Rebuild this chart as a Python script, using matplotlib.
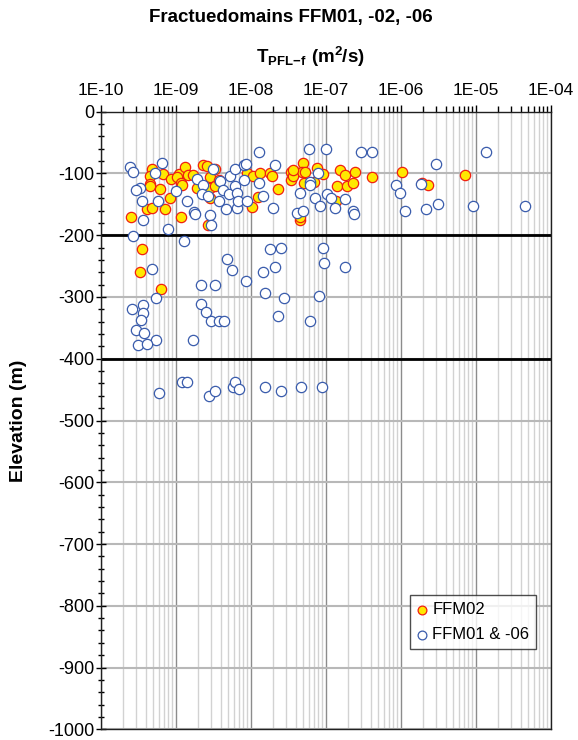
import matplotlib

matplotlib.use("Agg")
import matplotlib.pyplot as plt
import numpy as np
from matplotlib.ticker import FixedLocator, FuncFormatter, LogLocator, MultipleLocator, NullFormatter


COLORS = {
    "ffm02_face": "#FFE800",
    "ffm02_edge": "#F02010",
    "ffm01_face": "#FFFFFF",
    "ffm01_edge": "#3A5CAC",
    "major_grid": "#8C8C8C",
    "minor_grid": "#D2D2D2",
    "hgrid": "#B8B8B8",
    "ink": "#000000",
}

# FFM02: transmissivity (m2/s) and elevation (m)
ffm02_t = [
    2.5e-10, 4.9e-10, 4.5e-10, 4.5e-10, 4.6e-10, 6.1e-10, 6.7e-10, 4.1e-10,
    4.8e-10, 7.2e-10, 8.4e-10, 8.6e-10, 1.1e-9, 1.05e-9, 1.19e-9, 1.21e-9,
    1.35e-9, 1.48e-9, 1.69e-9, 1.19e-9, 2.34e-9, 2.6e-9, 3.35e-9, 1.9e-9,
    2.9e-9, 2.9e-9, 3.35e-9, 3.8e-9, 2.7e-9, 2.9e-9, 8.9e-9, 1.09e-8,
    1.34e-8, 1.8e-8, 1.9e-8, 2.34e-8, 1.03e-8, 1.27e-8, 3.5e-8, 3.9e-8,
    4.96e-8, 4.9e-8, 5.3e-8, 3.5e-8, 3.7e-8, 5.2e-8, 7.6e-8, 9.3e-8,
    6.9e-8, 4.57e-8, 4.5e-8, 1.41e-7, 1.56e-7, 1.82e-7, 2.47e-7, 1.91e-7,
    2.3e-7, 4.1e-7, 1.38e-7, 1.04e-6, 1.92e-6, 2.35e-6, 7.3e-6, 3.6e-10,
    3.3e-10, 6.3e-10, 3.7e-8,
]
ffm02_z = [
    -170, -93, -104, -117, -121, -125, -101, -157,
    -156, -157, -140, -109, -101, -106, -115, -119,
    -89, -102, -102, -171, -86, -88, -93, -124,
    -105, -124, -121, -110, -183, -140, -99, -104,
    -99, -99, -104, -125, -154, -138, -97, -97,
    -83, -97, -97, -110, -104, -115, -91, -101,
    -113, -175, -170, -121, -95, -102, -97, -121,
    -116, -105, -144, -97, -116, -118, -102, -222,
    -260, -287, -94,
]

# FFM01 & -06: transmissivity (m2/s) and elevation (m)
ffm01_t = [
    2.46e-10, 2.73e-10, 6.5e-10, 5.3e-10, 3.35e-10, 2.96e-10, 3.6e-10, 5.9e-10,
    3.7e-10, 7.8e-10, 2.73e-10, 1.01e-9, 1.43e-9, 1.76e-9, 1.83e-9, 1.95e-9,
    2.34e-9, 2.23e-9, 2.73e-9, 3.12e-9, 2.88e-9, 3.0e-9, 3.83e-9, 3.9e-9,
    4.3e-9, 4.7e-9, 5.3e-9, 5.2e-9, 6.2e-9, 6.2e-9, 6.5e-9, 6.5e-9,
    6.7e-9, 8.2e-9, 8.6e-9, 8.2e-9, 8.9e-9, 1.28e-8, 1.28e-8, 1.48e-8,
    2.01e-8, 2.12e-8, 5.96e-8, 1.0e-7, 4.57e-8, 6.1e-8, 6.2e-8, 7.85e-8,
    7.2e-8, 8.4e-8, 1.03e-7, 1.17e-7, 1.34e-7, 1.82e-7, 4.2e-8, 4.96e-8,
    2.3e-7, 2.4e-7, 2.94e-7, 4.2e-7, 8.7e-7, 9.66e-7, 1.15e-6, 1.86e-6,
    2.19e-6, 2.92e-6, 3.13e-6, 9.2e-6, 1.36e-5, 4.58e-5, 1.29e-9, 4.8e-10,
    1.8e-8, 2.5e-8, 4.9e-9, 5.6e-9, 8.6e-9, 1.48e-8, 2.12e-8, 9.2e-8,
    9.6e-8, 1.82e-7, 2.16e-9, 3.3e-9, 5.4e-10, 2.64e-10, 3.63e-10, 3.63e-10,
    3.5e-10, 2.16e-9, 2.51e-9, 3.0e-9, 3.8e-9, 4.4e-9, 1.56e-8, 2.8e-8,
    8.2e-8, 2.34e-8, 6.2e-8, 2.96e-10, 3.8e-10, 5.4e-10, 3.18e-10, 4.1e-10,
    1.69e-9, 6.05e-10, 1.2e-9, 1.4e-9, 2.8e-9, 3.35e-9, 5.8e-9, 6.2e-9,
    6.9e-9, 1.56e-8, 2.5e-8, 4.7e-8, 8.9e-8,
]
ffm01_z = [
    -89, -98, -83, -99, -124, -126, -145, -145,
    -176, -190, -202, -129, -145, -163, -165, -109,
    -119, -134, -137, -93, -168, -184, -145, -112,
    -127, -158, -104, -134, -93, -121, -131, -156,
    -144, -86, -84, -110, -145, -65, -116, -137,
    -156, -87, -60, -60, -131, -113, -118, -99,
    -140, -152, -134, -140, -156, -141, -164, -160,
    -161, -166, -65, -65, -118, -131, -160, -117,
    -158, -85, -149, -152, -65, -152, -210, -255,
    -222, -220, -239, -257, -274, -260, -252, -220,
    -245, -252, -281, -281, -301, -320, -313, -326,
    -337, -312, -324, -339, -339, -339, -293, -301,
    -298, -331, -339, -353, -358, -370, -378, -376,
    -370, -455, -438, -437, -460, -453, -445, -438,
    -449, -445, -453, -445, -445,
]

x_limits = (1e-10, 1e-4)
y_limits = (-1000, 0)
decades = [1e-10, 1e-9, 1e-8, 1e-7, 1e-6, 1e-5, 1e-4]
heavy_levels = [-200, -400]


def configure_style():
    plt.rcParams.update(
        {
            "font.family": ["Liberation Sans", "DejaVu Sans"],
            "axes.unicode_minus": False,
            "mathtext.fontset": "custom",
            "mathtext.rm": "Liberation Sans",
            "mathtext.bf": "Liberation Sans:bold",
            "text.color": COLORS["ink"],
        }
    )


def sci_label(value, _pos):
    exp = int(round(np.log10(value)))
    return f"1E{exp:+03d}".replace("+", "")


def make_figure():
    configure_style()
    fig = plt.figure(figsize=(5.78, 7.40), dpi=100)
    ax = fig.add_axes([0.1742, 0.0145, 0.7785, 0.8345])

    ax.set_xscale("log")
    ax.set_xlim(*x_limits)
    ax.set_ylim(*y_limits)

    # log grid: light minor lines, darker decades
    ax.xaxis.set_major_locator(FixedLocator(decades))
    ax.xaxis.set_minor_locator(LogLocator(base=10, subs=np.arange(2, 10), numticks=20))
    ax.xaxis.set_major_formatter(FuncFormatter(sci_label))
    ax.xaxis.set_minor_formatter(NullFormatter())
    ax.xaxis.tick_top()
    ax.grid(True, axis="x", which="minor", color=COLORS["minor_grid"], linewidth=1.0)
    ax.grid(True, axis="x", which="major", color=COLORS["major_grid"], linewidth=1.0)

    ax.yaxis.set_major_locator(MultipleLocator(100))
    ax.yaxis.set_minor_locator(MultipleLocator(20))
    ax.grid(True, axis="y", which="major", color=COLORS["hgrid"], linewidth=1.5)
    for level in heavy_levels:
        ax.axhline(level, color=COLORS["ink"], linewidth=2.0, zorder=1.5)
    ax.set_axisbelow(True)

    ax.tick_params(axis="x", which="major", direction="out", length=5, width=1,
                   labelsize=12.5, pad=5)
    ax.tick_params(axis="x", which="minor", direction="out", length=4, width=1)
    ax.tick_params(axis="y", which="major", direction="inout", length=7, width=1,
                   labelsize=13, pad=1)
    ax.tick_params(axis="y", which="minor", direction="inout", length=5, width=1)
    for spine in ax.spines.values():
        spine.set_linewidth(1.0)
        spine.set_color("#202020")

    ax.scatter(ffm02_t, ffm02_z, s=55, facecolor=COLORS["ffm02_face"],
               edgecolor=COLORS["ffm02_edge"], linewidth=0.9, zorder=3, label="FFM02")
    ax.scatter(ffm01_t, ffm01_z, s=55, facecolor=COLORS["ffm01_face"],
               edgecolor=COLORS["ffm01_edge"], linewidth=0.9, zorder=3,
               label="FFM01 & -06")

    ax.set_ylabel("Elevation (m)", fontsize=14, fontweight="bold", labelpad=15)

    leg = ax.legend(loc="upper left", bbox_to_anchor=(0.687, 0.217), borderaxespad=0,
                    fontsize=12, frameon=True, fancybox=False, markerscale=0.85,
                    handletextpad=0.25, handlelength=0.7, borderpad=0.4,
                    labelspacing=0.6)
    leg.get_frame().set_edgecolor("#202020")
    leg.get_frame().set_linewidth(1.0)

    fig.text(0.503, 0.976, "Fractuedomains FFM01, -02, -06", ha="center", va="center",
             fontsize=13.5, fontweight="bold")
    fig.text(0.537, 0.923, r"$\mathbf{T_{PFL{-}f}\ (m^2/s)}$", ha="center", va="center",
             fontsize=13.5)
    return fig


def main():
    fig = make_figure()
    fig.savefig("out.png", dpi=100)
    plt.close(fig)


if __name__ == "__main__":
    main()
